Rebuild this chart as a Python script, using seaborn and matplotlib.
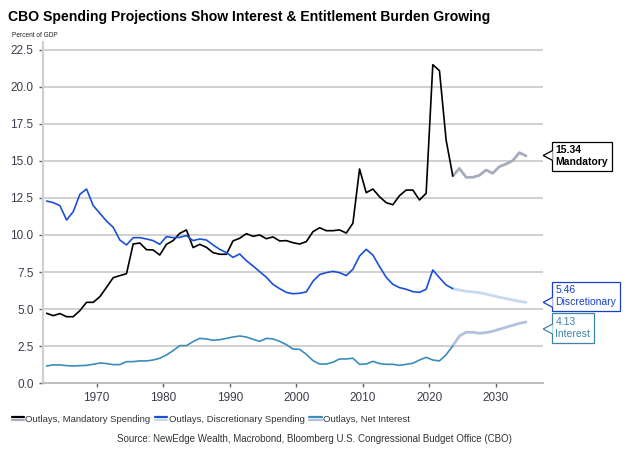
import numpy as np
import pandas as pd
import seaborn as sns
import matplotlib.pyplot as plt
from matplotlib.lines import Line2D
from matplotlib.patches import Polygon
from matplotlib.transforms import IdentityTransform
from matplotlib.legend_handler import HandlerBase

# CBO outlays, percent of GDP (fiscal years), actuals through 2023 then projections
years = list(range(1962, 2035))
last_actual = 2023

mandatory = [
    4.72, 4.56, 4.70, 4.49, 4.49, 4.90, 5.46, 5.46,
    5.84, 6.47, 7.12, 7.26, 7.39, 9.39, 9.46, 9.01, 8.99, 8.65,
    9.37, 9.62, 10.11, 10.34, 9.15, 9.37, 9.17, 8.81, 8.70, 8.70,
    9.60, 9.78, 10.09, 9.91, 10.00, 9.75, 9.87, 9.60, 9.62, 9.48,
    9.39, 9.55, 10.22, 10.49, 10.29, 10.29, 10.34, 10.13, 10.79, 14.45,
    12.85, 13.10, 12.58, 12.18, 12.04, 12.65, 13.03, 13.03, 12.36, 12.81,
    21.48, 21.08, 16.40, 13.98, 14.49, 13.89, 13.89, 14.02, 14.38, 14.16,
    14.61, 14.79, 15.01, 15.55, 15.34,
]
discretionary = [
    12.29, 12.18, 11.98, 11.01, 11.57, 12.74, 13.10, 11.98,
    11.46, 10.94, 10.52, 9.66, 9.33, 9.82, 9.82, 9.73, 9.62, 9.37,
    9.89, 9.82, 9.84, 9.96, 9.62, 9.73, 9.66, 9.33, 9.03, 8.81,
    8.49, 8.72, 8.27, 7.91, 7.53, 7.15, 6.67, 6.38, 6.13, 6.04,
    6.07, 6.16, 6.88, 7.33, 7.46, 7.55, 7.46, 7.26, 7.69, 8.58,
    9.03, 8.65, 7.87, 7.15, 6.67, 6.45, 6.34, 6.18, 6.13, 6.34,
    7.64, 7.12, 6.63, 6.38, 6.29, 6.20, 6.16, 6.11, 6.02, 5.91,
    5.80, 5.71, 5.62, 5.53, 5.46,
]
interest = [
    1.17, 1.24, 1.24, 1.19, 1.17, 1.19, 1.21, 1.28,
    1.37, 1.33, 1.26, 1.26, 1.46, 1.46, 1.51, 1.51, 1.57, 1.69,
    1.91, 2.20, 2.54, 2.54, 2.81, 3.03, 2.99, 2.90, 2.94, 3.03,
    3.12, 3.19, 3.12, 2.97, 2.83, 3.03, 2.99, 2.83, 2.61, 2.31,
    2.29, 1.96, 1.53, 1.30, 1.30, 1.42, 1.64, 1.64, 1.69, 1.28,
    1.30, 1.48, 1.33, 1.28, 1.28, 1.21, 1.28, 1.35, 1.57, 1.75,
    1.57, 1.51, 1.93, 2.52, 3.19, 3.44, 3.44, 3.37, 3.42, 3.51,
    3.64, 3.78, 3.91, 4.04, 4.13,
]

series_names = ["Outlays, Mandatory Spending", "Outlays, Discretionary Spending",
                "Outlays, Net Interest"]
dark_colors = ["#000000", "#1a4fd6", "#3a8db8"]
light_colors = ["#a4acbe", "#c7daf0", "#b3c1dc"]
label_texts = ["15.34\nMandatory", "5.46\nDiscretionary", "4.13\nInterest"]
label_colors = ["#000000", "#1a3fc8", "#3d84a8"]
label_tip = [15.36, 5.46, 3.66]     # where the callout points (data units)
label_dy = [-1, 6, 1]               # box shift from pointer, pixels

df = pd.DataFrame({"year": years, series_names[0]: mandatory,
                   series_names[1]: discretionary, series_names[2]: interest})
df["x"] = df["year"] + 0.5   # fiscal-year values plotted mid-year

sns.set_theme(style="white")
narrow = ["Liberation Sans Narrow", "Liberation Sans", "DejaVu Sans"]
plt.rcParams["font.family"] = ["Liberation Sans", "DejaVu Sans"]

fig = plt.figure(figsize=(6.27, 4.55), dpi=100)
ax = fig.add_axes([0.069, 0.1576, 0.7965, 0.7497])

for name, dc, lc in zip(series_names, dark_colors, light_colors):
    hist = df[df["year"] <= last_actual]
    proj = df[df["year"] >= last_actual]
    sns.lineplot(data=proj, x="x", y=name, color=lc, lw=2.0, ax=ax)
    sns.lineplot(data=hist, x="x", y=name, color=dc, lw=1.2, ax=ax)

ax.set_xlim(1962, 2037)
ax.set_ylim(0, 23)
ax.set_yticks(np.arange(0, 22.6, 2.5))
ax.set_yticklabels([f"{v:.1f}" for v in np.arange(0, 22.6, 2.5)])
ax.set_xticks(range(1970, 2031, 10))
ax.set_xlabel("")
ax.set_ylabel("")
for v in np.arange(2.5, 22.6, 2.5):
    ax.axhline(v, color="#c8c8c8", lw=1.2, zorder=0)
for s in ["top", "right"]:
    ax.spines[s].set_visible(False)
ax.spines["left"].set_color("#d0d0d0")
ax.spines["left"].set_linewidth(1.6)
ax.spines["bottom"].set_color("#bdbdbd")
ax.spines["bottom"].set_linewidth(1.4)
ax.tick_params(axis="both", direction="out", length=3, width=1, color="#606060",
               labelsize=8.5, labelcolor="#3c3c4c", bottom=True, left=True)
ax.tick_params(axis="y", pad=4)
ax.tick_params(axis="x", pad=3)

# callouts on the right
for txt, col, tip, dy, bold in zip(label_texts, label_colors, label_tip, label_dy,
                                   [True, False, False]):
    ax.annotate(txt, xy=(1, tip), xycoords=ax.get_yaxis_transform(),
                xytext=(9.1, dy / 1.389), textcoords="offset points",
                ha="left", va="center", fontsize=7.5, color=col,
                fontweight="bold" if bold else "normal", family=narrow,
                linespacing=1.25, annotation_clip=False, zorder=5,
                bbox=dict(boxstyle="square,pad=0.36", fc="white", ec=col, lw=0.9))
    tx, ty = ax.get_yaxis_transform().transform((1, tip))
    ptr = Polygon([(tx + 10, ty + 5), (tx + 0.5, ty), (tx + 10, ty - 5)], closed=False,
                  fc="white", ec=col, lw=0.9, transform=IdentityTransform(), zorder=6)
    fig.add_artist(ptr)

fig.text(0.013, 0.962, "CBO Spending Projections Show Interest & Entitlement Burden Growing",
         fontsize=10.1, fontweight="bold", family=narrow, color="#000000", va="center")
fig.text(0.019, 0.923, "Percent of GDP", fontsize=4.7, family=narrow, color="#222222",
         va="center")


class TwoTone(HandlerBase):
    def create_artists(self, legend, orig_handle, xdescent, ydescent, width, height,
                       fontsize, trans):
        dark, light = orig_handle
        y1 = height * 0.62 - ydescent
        y2 = height * 0.30 - ydescent
        a = Line2D([-xdescent, width - xdescent], [y1, y1], color=dark, lw=1.6,
                   transform=trans)
        b = Line2D([-xdescent, width - xdescent], [y2, y2], color=light, lw=1.6,
                   transform=trans)
        return [a, b]


handles = [(d, l) for d, l in zip(dark_colors, light_colors)]
fig.legend(handles, series_names, handler_map={tuple: TwoTone()}, loc="center left",
           bbox_to_anchor=(0.005, 0.079), ncol=3, frameon=False,
           prop={"family": narrow, "size": 6.8}, handlelength=1.3, handletextpad=0.15,
           columnspacing=0.5, labelcolor="#333333")

fig.text(0.817, 0.035, "Source: NewEdge Wealth, Macrobond, Bloomberg U.S. Congressional "
         "Budget Office (CBO)", fontsize=7, family=narrow, color="#333333",
         ha="right", va="center")

fig.savefig("out.png", dpi=100)
